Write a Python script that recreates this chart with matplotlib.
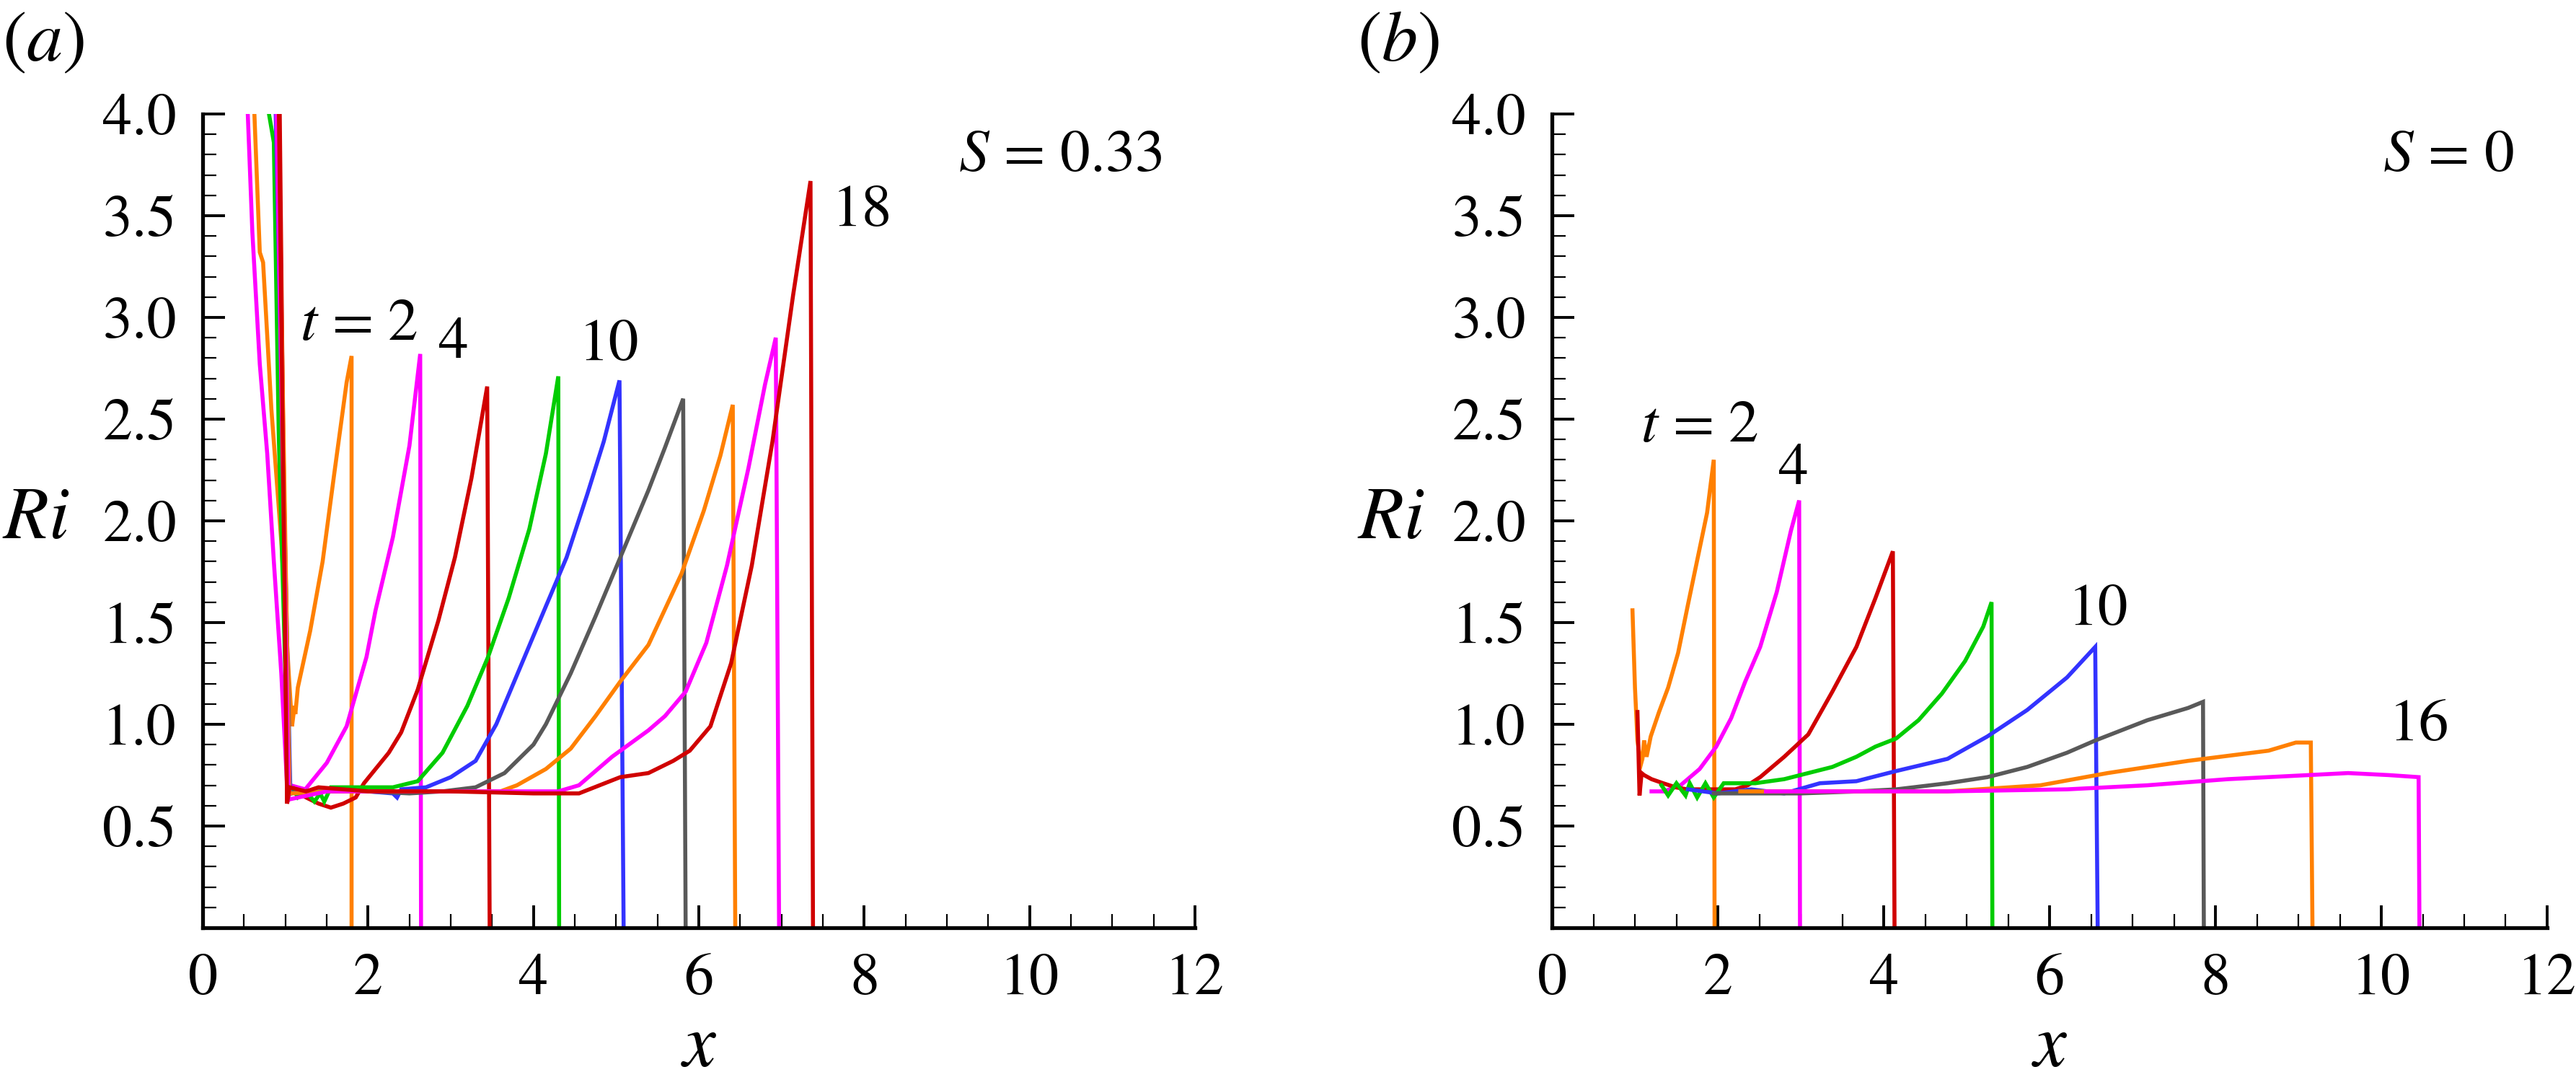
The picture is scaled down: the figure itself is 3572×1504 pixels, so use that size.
import matplotlib
matplotlib.use('Agg')
import matplotlib.pyplot as plt
from matplotlib.ticker import MultipleLocator, FuncFormatter
from matplotlib.transforms import ScaledTranslation

# Times-like look: STIX ships with matplotlib
plt.rcParams['font.family'] = ['STIXGeneral', 'DejaVu Serif']
plt.rcParams['mathtext.fontset'] = 'stix'

ORANGE = '#ff8000'
MAGENTA = '#ff00ff'
RED = '#d00000'
GREEN = '#00cc00'
BLUE = '#3333ff'
GRAY = '#595959'

# ---- panel (a), S = 0.33 : Ri(x) at t = 2, 4, ..., 18
a_t02_x = [0.62, 0.69, 0.73, 0.83, 0.95, 1.04, 1.08, 1.11, 1.12, 1.15, 1.30, 1.45, 1.59, 1.74, 1.80, 1.80]
a_t02_y = [4.05, 3.32, 3.27, 2.55, 1.90, 1.25, 0.99, 1.09, 1.05, 1.18, 1.46, 1.80, 2.23, 2.68, 2.81, 0.0]
a_t04_x = [0.54, 0.60, 0.69, 0.78, 0.86, 0.95, 1.03, 1.06, 1.24, 1.50, 1.74, 1.98, 2.09, 2.30, 2.50, 2.63, 2.64]
a_t04_y = [4.05, 3.42, 2.77, 2.33, 1.80, 1.25, 0.62, 0.70, 0.68, 0.81, 0.99, 1.33, 1.56, 1.92, 2.37, 2.82, 0.0]
a_t06_x = [0.93, 1.02, 1.05, 1.25, 1.40, 1.55, 1.70, 1.85, 1.95, 2.05, 2.25, 2.40, 2.60, 2.85, 3.05, 3.25, 3.44, 3.47]
a_t06_y = [4.05, 0.61, 0.69, 0.64, 0.61, 0.59, 0.61, 0.64, 0.71, 0.76, 0.86, 0.96, 1.17, 1.51, 1.82, 2.21, 2.66, 0.0]
a_t08_x = [0.78, 0.86, 0.92, 1.04, 1.10, 1.15, 1.25, 1.35, 1.42, 1.47, 1.55, 2.30, 2.60, 2.90, 3.20, 3.45, 3.70, 3.95, 4.15, 4.30, 4.31]
a_t08_y = [4.05, 3.86, 2.41, 0.65, 0.68, 0.64, 0.67, 0.62, 0.66, 0.62, 0.69, 0.69, 0.72, 0.86, 1.09, 1.33, 1.62, 1.96, 2.33, 2.71, 0.0]
a_t10_x = [0.88, 1.06, 1.20, 1.60, 2.00, 2.30, 2.35, 2.40, 2.70, 3.00, 3.30, 3.55, 3.85, 4.15, 4.40, 4.65, 4.85, 5.04, 5.09]
a_t10_y = [4.05, 0.66, 0.67, 0.67, 0.67, 0.66, 0.64, 0.68, 0.69, 0.74, 0.82, 1.00, 1.29, 1.58, 1.82, 2.13, 2.39, 2.69, 0.0]
a_t12_x = [0.90, 1.05, 1.50, 2.00, 2.50, 2.90, 3.30, 3.65, 4.00, 4.15, 4.45, 4.75, 5.05, 5.39, 5.59, 5.81, 5.84]
a_t12_y = [4.05, 0.66, 0.67, 0.67, 0.66, 0.67, 0.69, 0.76, 0.90, 1.00, 1.25, 1.53, 1.82, 2.15, 2.36, 2.60, 0.0]
a_t14_x = [0.91, 1.05, 1.50, 2.50, 3.30, 3.60, 3.80, 4.15, 4.45, 4.75, 5.05, 5.39, 5.79, 6.06, 6.26, 6.41, 6.44]
a_t14_y = [4.05, 0.66, 0.67, 0.67, 0.67, 0.67, 0.70, 0.78, 0.88, 1.04, 1.21, 1.39, 1.74, 2.05, 2.32, 2.57, 0.0]
a_t16_x = [0.89, 1.04, 1.50, 2.50, 3.50, 4.30, 4.55, 4.95, 5.39, 5.59, 5.84, 6.09, 6.34, 6.60, 6.80, 6.93, 6.97]
a_t16_y = [4.05, 0.63, 0.67, 0.67, 0.67, 0.67, 0.70, 0.84, 0.97, 1.04, 1.16, 1.40, 1.78, 2.26, 2.67, 2.90, 0.0]
a_t18_x = [0.92, 1.02, 1.05, 1.25, 1.40, 2.00, 3.00, 4.00, 4.55, 5.05, 5.39, 5.69, 5.89, 6.14, 6.39, 6.64, 6.89, 7.14, 7.35, 7.38]
a_t18_y = [4.05, 0.61, 0.69, 0.67, 0.69, 0.67, 0.67, 0.66, 0.66, 0.74, 0.76, 0.82, 0.87, 0.99, 1.30, 1.78, 2.39, 3.11, 3.67, 0.0]

# ---- panel (b), S = 0 : Ri(x) at t = 2, 4, ..., 16
b_t02_x = [0.97, 1.00, 1.03, 1.07, 1.09, 1.11, 1.14, 1.19, 1.29, 1.40, 1.52, 1.64, 1.87, 1.95, 1.96]
b_t02_y = [1.56, 1.18, 0.92, 0.80, 0.83, 0.92, 0.84, 0.94, 1.06, 1.18, 1.35, 1.59, 2.04, 2.30, 0.0]
b_t04_x = [1.20, 1.35, 1.55, 1.78, 1.98, 2.16, 2.33, 2.51, 2.71, 2.88, 2.98, 2.99]
b_t04_y = [0.67, 0.67, 0.70, 0.78, 0.89, 1.03, 1.21, 1.38, 1.65, 1.95, 2.10, 0.0]
b_t06_x = [1.03, 1.055, 1.08, 1.11, 1.20, 1.34, 1.49, 1.63, 1.92, 2.21, 2.36, 2.51, 2.80, 3.09, 3.38, 3.67, 3.90, 4.11, 4.13]
b_t06_y = [1.06, 0.65, 0.76, 0.75, 0.73, 0.71, 0.69, 0.68, 0.68, 0.68, 0.70, 0.74, 0.84, 0.95, 1.16, 1.38, 1.62, 1.85, 0.0]
b_t08_x = [1.32, 1.40, 1.50, 1.61, 1.66, 1.75, 1.85, 1.95, 2.07, 2.45, 2.80, 3.09, 3.38, 3.67, 3.90, 4.15, 4.42, 4.70, 4.98, 5.20, 5.30, 5.31]
b_t08_y = [0.70, 0.65, 0.71, 0.65, 0.71, 0.64, 0.71, 0.64, 0.71, 0.71, 0.73, 0.76, 0.79, 0.84, 0.89, 0.93, 1.02, 1.15, 1.31, 1.48, 1.60, 0.0]
b_t10_x = [1.64, 2.00, 2.40, 2.80, 3.23, 3.67, 4.15, 4.77, 5.25, 5.73, 6.21, 6.55, 6.58]
b_t10_y = [0.68, 0.66, 0.68, 0.66, 0.71, 0.72, 0.77, 0.83, 0.94, 1.07, 1.23, 1.38, 0.0]
b_t12_x = [1.95, 2.50, 3.00, 3.70, 4.15, 4.77, 5.25, 5.73, 6.21, 6.55, 7.18, 7.67, 7.85, 7.86]
b_t12_y = [0.66, 0.66, 0.66, 0.67, 0.68, 0.71, 0.74, 0.79, 0.86, 0.92, 1.02, 1.08, 1.11, 0.0]
b_t14_x = [2.27, 3.00, 4.00, 4.77, 5.89, 6.70, 7.67, 8.64, 8.97, 9.15, 9.17]
b_t14_y = [0.67, 0.67, 0.67, 0.67, 0.70, 0.76, 0.82, 0.87, 0.91, 0.91, 0.0]
b_t16_x = [2.58, 3.50, 4.77, 6.21, 7.18, 8.15, 9.12, 9.60, 10.09, 10.45, 10.46]
b_t16_y = [0.67, 0.67, 0.67, 0.68, 0.70, 0.73, 0.75, 0.76, 0.75, 0.74, 0.0]

a_colors = [ORANGE, MAGENTA, RED, GREEN, BLUE, GRAY, ORANGE, MAGENTA, RED]
b_colors = [ORANGE, MAGENTA, RED, GREEN, BLUE, GRAY, ORANGE, MAGENTA]

a_curves = [(a_t02_x, a_t02_y), (a_t04_x, a_t04_y), (a_t06_x, a_t06_y),
            (a_t08_x, a_t08_y), (a_t10_x, a_t10_y), (a_t12_x, a_t12_y),
            (a_t14_x, a_t14_y), (a_t16_x, a_t16_y), (a_t18_x, a_t18_y)]
b_curves = [(b_t02_x, b_t02_y), (b_t04_x, b_t04_y), (b_t06_x, b_t06_y),
            (b_t08_x, b_t08_y), (b_t10_x, b_t10_y), (b_t12_x, b_t12_y),
            (b_t14_x, b_t14_y), (b_t16_x, b_t16_y)]

# time labels: (text, x, baseline y)
a_labels = [(r'$t$ = 2', 1.18, 2.89), ('4', 2.85, 2.80), ('10', 4.55, 2.79), ('18', 7.61, 3.45)]
b_labels = [(r'$t$ = 2', 1.07, 2.39), ('4', 2.73, 2.18), ('10', 6.22, 1.49), ('16', 10.09, 0.92)]

DPI = 200
fig = plt.figure(figsize=(3572 / DPI, 1504 / DPI), dpi=DPI)
ax_a = fig.add_axes([0.0787, 0.1450, 0.3852, 0.75])
ax_b = fig.add_axes([0.6025, 0.1450, 0.3863, 0.75])

panels = [
    (ax_a, a_curves, a_colors, a_labels, r'$S$ = 0.33', r'($a$)', 3, -0.1686),
    (ax_b, b_curves, b_colors, b_labels, r'$S$ = 0', r'($b$)', 1882, -0.1623),
]

for ax, curves, colors, labels, s_text, tag, tag_px, ri_x in panels:
    for (xs, ys), c in zip(curves, colors):
        ax.plot(xs, ys, color=c, lw=2.0, solid_joinstyle='miter')

    ax.set_xlim(0, 12)
    ax.set_ylim(0, 4)
    ax.spines[['top', 'right']].set_visible(False)
    ax.spines[['left', 'bottom']].set_linewidth(1.9)

    ax.xaxis.set_major_locator(MultipleLocator(2))
    ax.xaxis.set_minor_locator(MultipleLocator(0.5))
    ax.yaxis.set_major_locator(MultipleLocator(0.5))
    ax.yaxis.set_minor_locator(MultipleLocator(0.1))
    ax.xaxis.set_major_formatter(FuncFormatter(lambda v, p: f'{v:g}'))
    ax.yaxis.set_major_formatter(FuncFormatter(lambda v, p: '' if abs(v) < 1e-9 else f'{v:.1f}'))
    ax.tick_params(which='major', direction='in', length=11, width=1.4,
                   labelsize=29.5, pad=13)
    ax.tick_params(which='minor', direction='in', length=7, width=0.8)

    # the "0" of the x axis sits left of the corner
    lab0 = ax.xaxis.get_major_ticks()[0].label1
    lab0.set_transform(lab0.get_transform() + ScaledTranslation(-55 / DPI, 0, fig.dpi_scale_trans))

    ax.set_ylabel(r'$Ri$', rotation=0, fontsize=37, ha='center', va='center')
    ax.yaxis.set_label_coords(ri_x, 0.5)
    ax.set_xlabel(r'$x$', fontsize=37)
    ax.xaxis.set_label_coords(0.5, -0.169)
    ax.xaxis.label.set_va('baseline')

    for txt, lx, ly in labels:
        ax.text(lx, ly, txt, fontsize=30, ha='left', va='baseline')
    ax.text(11.6, 3.72, s_text, fontsize=30, ha='right', va='baseline')

    fig.text(tag_px / 3572, 1 - 84 / 1504, tag, fontsize=36, ha='left', va='baseline')

fig.savefig('out.png', dpi=DPI)
